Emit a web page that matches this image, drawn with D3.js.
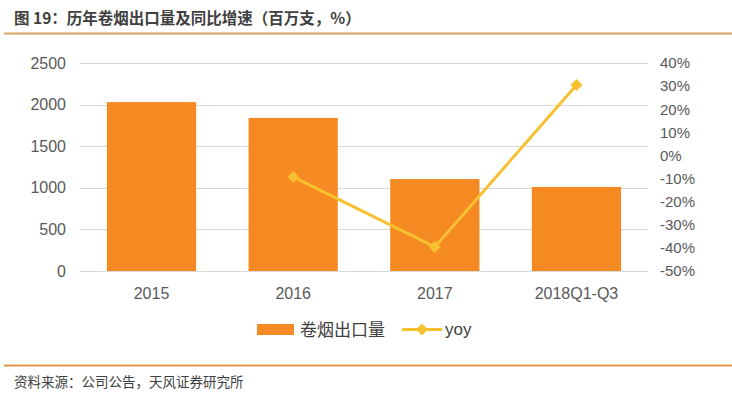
<!DOCTYPE html>
<html>
<head>
<meta charset="utf-8">
<script src="https://cdn.jsdelivr.net/npm/d3@7"></script>
<style>
	body { margin: 0; background: #fff; }
	svg { display: block; font-family: "Microsoft YaHei", "Noto Sans CJK SC", sans-serif; }
</style>
</head>
<body>
<div id="chart"></div>
<script>
const categories = ['2015', '2016', '2017', '2018Q1-Q3'];
const exportVolume = [2030, 1840, 1105, 1010];
const yoy = [null, -9.3, -39.6, 30.5];
const leftTicks = [0, 500, 1000, 1500, 2000, 2500];
const rightTicks = [40, 30, 20, 10, 0, -10, -20, -30, -40, -50];

const width = 732, height = 396;
const plot = { left: 80, right: 648, top: 63, bottom: 271 };

const svg = d3.select('#chart').append('svg').attr('width', width).attr('height', height);

svg.append('rect').attr('width', width).attr('height', height).attr('fill', '#fff');

// title + rules
svg.append('text')
	.attr('x', 14).attr('y', 24)
	.attr('font-size', 15.5).attr('font-weight', 'bold').attr('fill', '#404040')
	.text('图 19：历年卷烟出口量及同比增速（百万支，%）');

svg.append('line').attr('x1', 4).attr('x2', width).attr('y1', 33.5).attr('y2', 33.5)
	.attr('stroke', '#d9a35e').attr('stroke-width', 2);
svg.append('line').attr('x1', 4).attr('x2', width).attr('y1', 365.5).attr('y2', 365.5)
	.attr('stroke', '#e0954a').attr('stroke-width', 2);

svg.append('text')
	.attr('x', 14).attr('y', 387)
	.attr('font-size', 13.5).attr('fill', '#404040')
	.text('资料来源：公司公告，天风证券研究所');

const x = d3.scaleBand().domain(categories).range([plot.left, plot.right]).paddingInner(0.37).paddingOuter(0.19);
const yL = d3.scaleLinear().domain([0, 2500]).range([plot.bottom, plot.top]);
const yR = d3.scaleLinear().domain([-50, 40]).range([plot.bottom, plot.top]);

// gridlines
svg.append('g').selectAll('line')
	.data(leftTicks)
	.enter()
	.append('line')
	.attr('x1', plot.left).attr('x2', plot.right)
	.attr('y1', (d) => Math.round(yL(d)) + 0.5).attr('y2', (d) => Math.round(yL(d)) + 0.5)
	.attr('stroke', '#d9d9d9');

// left axis
const leftAxis = svg.append('g')
	.attr('transform', `translate(${plot.left - 14}, 0)`)
	.call(d3.axisLeft(yL).tickValues(leftTicks).tickSize(0).tickPadding(0).tickFormat(d3.format('d')));
leftAxis.select('.domain').remove();
leftAxis.selectAll('text').attr('font-size', 16).attr('fill', '#595959').attr('font-family', '"Liberation Sans", Arial, sans-serif');

// right axis
const rightAxis = svg.append('g')
	.attr('transform', `translate(${plot.right + 12}, 0)`)
	.call(d3.axisRight(yR).tickValues(rightTicks).tickSize(0).tickPadding(0).tickFormat((d) => d + '%'));
rightAxis.select('.domain').remove();
rightAxis.selectAll('text').attr('font-size', 15).attr('fill', '#595959').attr('font-family', '"Liberation Sans", Arial, sans-serif');

// bars
svg.append('g').selectAll('rect')
	.data(categories)
	.enter()
	.append('rect')
	.attr('x', (d) => x(d))
	.attr('width', x.bandwidth())
	.attr('y', (d, i) => yL(exportVolume[i]))
	.attr('height', (d, i) => plot.bottom - yL(exportVolume[i]))
	.attr('fill', '#f58a23');

// x labels
svg.append('g').selectAll('text')
	.data(categories)
	.enter()
	.append('text')
	.attr('x', (d) => x(d) + x.bandwidth() / 2)
	.attr('y', 299)
	.attr('text-anchor', 'middle')
	.attr('font-size', 16).attr('fill', '#595959')
	.attr('font-family', '"Liberation Sans", Arial, sans-serif')
	.text((d) => d);

// yoy line
const pts = categories.map((c, i) => ({ c, v: yoy[i] })).filter((d) => d.v !== null);
const line = d3.line().x((d) => x(d.c) + x.bandwidth() / 2).y((d) => yR(d.v));

svg.append('path').datum(pts).attr('d', line)
	.attr('fill', 'none').attr('stroke', '#f7c031').attr('stroke-width', 3);

const diamond = d3.symbol().type(d3.symbolDiamond2).size(90);
svg.append('g').selectAll('path')
	.data(pts)
	.enter()
	.append('path')
	.attr('d', diamond)
	.attr('transform', (d) => `translate(${x(d.c) + x.bandwidth() / 2}, ${yR(d.v)})`)
	.attr('fill', '#f7c031');

// legend
const legend = svg.append('g');
legend.append('rect').attr('x', 257).attr('y', 324).attr('width', 37).attr('height', 11).attr('fill', '#f58a23');
legend.append('text').attr('x', 300).attr('y', 336).attr('font-size', 17).attr('fill', '#404040').text('卷烟出口量');
legend.append('line').attr('x1', 402).attr('x2', 442).attr('y1', 329.5).attr('y2', 329.5)
	.attr('stroke', '#f7c031').attr('stroke-width', 3);
legend.append('path').attr('d', diamond).attr('transform', 'translate(422, 329.5)').attr('fill', '#f7c031');
legend.append('text').attr('x', 445).attr('y', 335).attr('font-size', 17).attr('fill', '#404040')
	.attr('font-family', '"Liberation Sans", Arial, sans-serif').text('yoy');
</script>
</body>
</html>
